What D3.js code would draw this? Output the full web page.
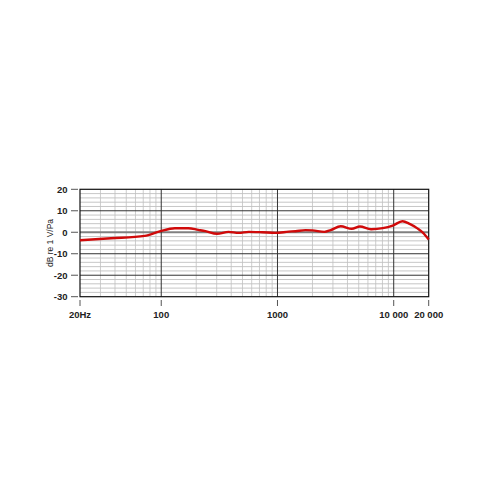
<!DOCTYPE html>
<html><head><meta charset="utf-8">
<script src="https://cdn.jsdelivr.net/npm/d3@7"></script>
<style>body{margin:0;background:#fff}svg{display:block}</style>
</head><body>
<svg id="c" width="500" height="500"></svg>
<script>
const freqs = [20, 37, 72, 97, 131, 171, 208, 240, 302, 380, 464, 566, 740, 960, 1250, 1430, 1740, 2000, 2530, 2870, 3500, 4360, 5120, 6390, 8050, 9800, 11900, 13700, 16100, 17900, 20000];
const dbs   = [-3.7, -2.8, -1.7, 0.4, 1.9, 1.9, 1.1, 0.5, -0.7, 0.2, -0.3, 0.2, 0, -0.3, 0.3, 0.5, 1.0, 0.9, 0.2, 1.0, 2.8, 1.6, 2.7, 1.4, 1.9, 3.1, 5.1, 3.9, 1.7, -0.3, -3.4];
const yTicks = [20, 10, 0, -10, -20, -30];
const xTicks = [20, 100, 1000, 10000, 20000];
const xTickLabels = ["20Hz", "100", "1000", "10 000", "20 000"];

const svg = d3.select("#c");
const x = d3.scaleLog().domain([20, 20000]).range([80, 428.7]);
const y = d3.scaleLinear().domain([-30, 20]).range([296.7, 189.3]);

const g = svg.append("g");
for (let v = -30; v <= 20; v += 2) {
  if (v % 10 === 0) continue;
  g.append("line").attr("x1", x(20)).attr("x2", x(20000)).attr("y1", y(v)).attr("y2", y(v))
    .attr("stroke", "#b8b8b8").attr("stroke-width", 0.8);
}
const minorF = [];
[10, 100, 1000, 10000].forEach(d => { for (let k = 2; k <= 9; k++) { const f = d * k; if (f > 20 && f < 20000) minorF.push(f); } });
minorF.forEach(f => {
  g.append("line").attr("x1", x(f)).attr("x2", x(f)).attr("y1", y(20)).attr("y2", y(-30))
    .attr("stroke", "#c0c0c0").attr("stroke-width", 0.8);
});
yTicks.forEach(v => {
  if (v === 20 || v === -30) return;
  g.append("line").attr("x1", x(20)).attr("x2", x(20000)).attr("y1", y(v)).attr("y2", y(v))
    .attr("stroke", v === 0 ? "#808080" : "#333").attr("stroke-width", v === 0 ? 1.8 : 1);
});
[100, 1000, 10000].forEach(f => {
  g.append("line").attr("x1", x(f)).attr("x2", x(f)).attr("y1", y(20)).attr("y2", y(-30))
    .attr("stroke", "#333").attr("stroke-width", 1);
});
g.append("rect").attr("x", x(20)).attr("y", y(20)).attr("width", x(20000) - x(20)).attr("height", y(-30) - y(20))
  .attr("fill", "none").attr("stroke", "#111").attr("stroke-width", 1.2);

yTicks.forEach(v => {
  svg.append("line").attr("x1", 71).attr("x2", 78).attr("y1", y(v)).attr("y2", y(v)).attr("stroke", "#555").attr("stroke-width", 1);
  svg.append("text").attr("x", 67.5).attr("y", y(v)).attr("dy", "0.35em").attr("text-anchor", "end")
    .attr("font-family", "Liberation Sans, Arial, sans-serif").attr("font-size", 9.5).attr("font-weight", "bold").attr("fill", "#222").text(v);
});
svg.append("text").attr("transform", `translate(50,${(y(20) + y(-30)) / 2}) rotate(-90)`)
  .attr("text-anchor", "middle").attr("dy", "0.35em")
  .attr("font-family", "Liberation Sans, Arial, sans-serif").attr("font-size", 8.5).attr("fill", "#222").text("dB re 1 V/Pa");

xTicks.forEach((f, i) => {
  svg.append("line").attr("x1", x(f)).attr("x2", x(f)).attr("y1", 300).attr("y2", 306).attr("stroke", "#555").attr("stroke-width", 1);
  svg.append("text").attr("x", x(f)).attr("y", 318).attr("text-anchor", "middle")
    .attr("font-family", "Liberation Sans, Arial, sans-serif").attr("font-size", 9.5).attr("font-weight", "bold").attr("fill", "#222").text(xTickLabels[i]);
});

const data = freqs.map((f, i) => [f, dbs[i]]);
svg.append("path").datum(data)
  .attr("d", d3.line().x(d => x(d[0])).y(d => y(d[1])).curve(d3.curveMonotoneX))
  .attr("fill", "none").attr("stroke", "#d00a0a").attr("stroke-width", 2.4).attr("stroke-linejoin", "round");
</script>
</body></html>
